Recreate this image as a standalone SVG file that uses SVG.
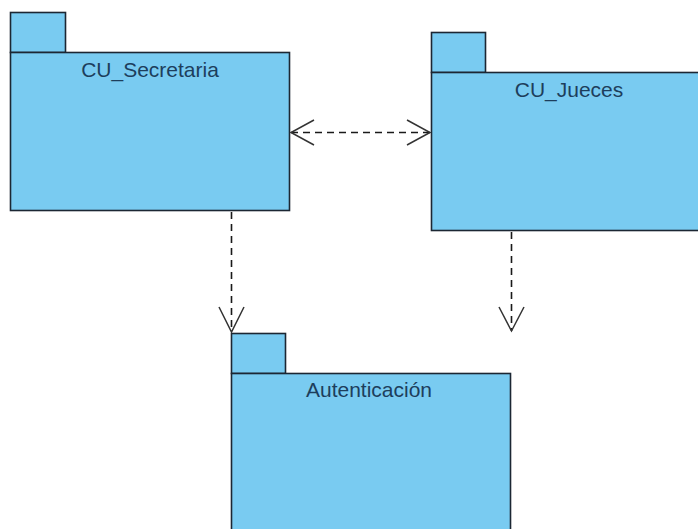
<svg xmlns="http://www.w3.org/2000/svg" width="698" height="529" viewBox="0 0 698 529">
<style>
.pkg{fill:#79CBF1;stroke:#1c2733;stroke-width:1.6}
.lbl{font-family:"Liberation Sans",Arial,sans-serif;font-size:21px;fill:#1d3e5c;text-anchor:middle}
.dep{fill:none;stroke:#1a1a1a;stroke-width:1.6;stroke-dasharray:7 5}
.head{fill:none;stroke:#333;stroke-width:1.5}
</style>
<rect width="698" height="529" fill="#ffffff"/>
<g id="CU_Secretaria">
<rect class="pkg" x="10.5" y="12.5" width="55" height="40"/>
<rect class="pkg" x="10.5" y="52.5" width="279" height="158"/>
<text class="lbl" x="150" y="77">CU_Secretaria</text>
</g>
<g id="CU_Jueces">
<rect class="pkg" x="431.5" y="32.5" width="54" height="40"/>
<rect class="pkg" x="431.5" y="72.5" width="280" height="158"/>
<text class="lbl" x="569" y="97">CU_Jueces</text>
</g>
<g id="Autenticacion">
<rect class="pkg" x="231.5" y="333.5" width="54" height="40"/>
<rect class="pkg" x="231.5" y="373.5" width="279" height="170"/>
<text class="lbl" x="369" y="397">Autenticación</text>
</g>
<g id="connectors">
<line class="dep" x1="291" y1="132.5" x2="430" y2="132.5"/>
<polyline class="head" points="314,120 291,132.5 314,145"/>
<polyline class="head" points="407,120 430,132.5 407,145"/>
<line class="dep" x1="231.5" y1="212" x2="231.5" y2="332"/>
<polyline class="head" points="219,307 231.5,332 244,307"/>
<line class="dep" x1="511.5" y1="232" x2="511.5" y2="331"/>
<polyline class="head" points="499,307 511.5,331 524,307"/>
</g>
</svg>
